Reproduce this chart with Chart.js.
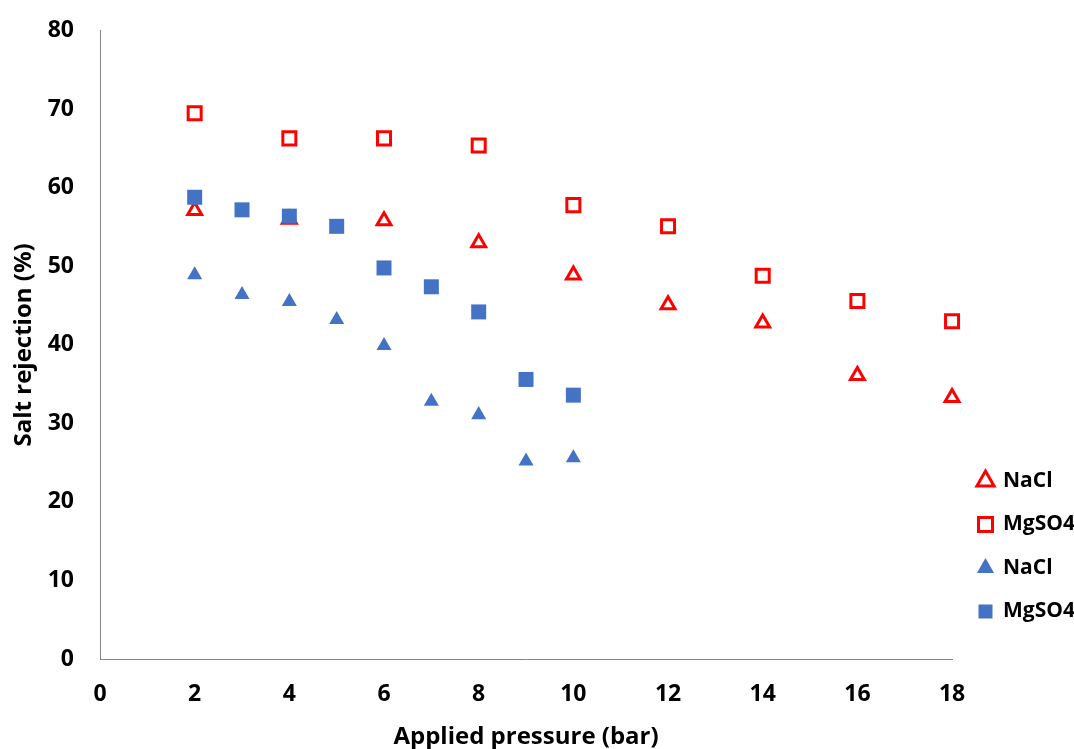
<!DOCTYPE html>
<html>
<head>
<meta charset="utf-8">
<script src="https://cdn.jsdelivr.net/npm/chart.js@4/dist/chart.umd.min.js"></script>
<style>
  html, body { margin: 0; padding: 0; background: #fff; }
  #wrap { width: 1074px; height: 749px; }
</style>
</head>
<body>
<div id="wrap"><canvas id="rejection_chart"></canvas></div>
<script>
// salt rejection vs applied pressure

var xTicks = [0, 2, 4, 6, 8, 10, 12, 14, 16, 18];
var yTicks = [0, 10, 20, 30, 40, 50, 60, 70, 80];

var pressureRed = [2, 4, 6, 8, 10, 12, 14, 16, 18];
var naclRed = [57.1, 56.0, 55.8, 53.0, 48.9, 45.1, 42.8, 36.1, 33.3];
var mgso4Red = [69.5, 66.3, 66.3, 65.4, 57.8, 55.1, 48.8, 45.6, 43.0];

var pressureBlue = [2, 3, 4, 5, 6, 7, 8, 9, 10];
var naclBlue = [48.9, 46.4, 45.5, 43.2, 39.9, 32.8, 31.1, 25.2, 25.6];
var mgso4Blue = [58.8, 57.2, 56.4, 55.1, 49.8, 47.4, 44.2, 35.6, 33.6];

var RED = '#FF0000';
var BLUE = '#4472C4';
var FONT = '"Open Sans", Lato, sans-serif';

function toPoints(xs, ys) {
  return xs.map(function (x, i) { return { x: x, y: ys[i] }; });
}

// put the legend block at the lower right like the original
const legendPlace = {
  id: 'legendPlace',
  afterLayout: function (chart) {
    var lg = chart.legend;
    if (!lg) return;
    var w = lg.right - lg.left, h = lg.bottom - lg.top;
    lg.left = 956; lg.right = lg.left + w;
    lg.top = 448; lg.bottom = lg.top + h;
  }
};

const config = {
  type: 'scatter',
  data: {
    datasets: [{
      label: 'NaCl',
      data: toPoints(pressureRed, naclRed),
      pointStyle: 'triangle',
      pointRadius: 8,
      pointHoverRadius: 8,
      pointBorderWidth: 3,
      pointBorderColor: RED,
      pointBackgroundColor: '#fff',
      borderColor: RED,
      backgroundColor: '#fff',
      clip: false,
      order: 3
    }, {
      label: 'MgSO4',
      data: toPoints(pressureRed, mgso4Red),
      pointStyle: 'rect',
      pointRadius: 9.2,
      pointHoverRadius: 9.2,
      pointBorderWidth: 3,
      pointBorderColor: RED,
      pointBackgroundColor: '#fff',
      borderColor: RED,
      backgroundColor: '#fff',
      clip: false,
      order: 2
    }, {
      label: 'NaCl',
      data: toPoints(pressureBlue, naclBlue),
      pointStyle: 'triangle',
      pointRadius: 8.7,
      pointHoverRadius: 8.7,
      pointBorderWidth: 0,
      pointBorderColor: BLUE,
      pointBackgroundColor: BLUE,
      borderColor: BLUE,
      backgroundColor: BLUE,
      clip: false,
      order: 1
    }, {
      label: 'MgSO4',
      data: toPoints(pressureBlue, mgso4Blue),
      pointStyle: 'rect',
      pointRadius: 10.6,
      pointHoverRadius: 10.6,
      pointBorderWidth: 0,
      pointBorderColor: BLUE,
      pointBackgroundColor: BLUE,
      borderColor: BLUE,
      backgroundColor: BLUE,
      clip: false,
      order: 0
    }]
  },
  options: {
    responsive: true,
    maintainAspectRatio: false,
    animation: false,
    layout: { padding: { top: 28, right: -7, bottom: 0, left: 0 } },
    plugins: {
      tooltip: { enabled: false },
      legend: {
        display: true,
        position: 'right',
        align: 'start',
        fullSize: false,
        labels: {
          usePointStyle: true,
          boxWidth: 14,
          boxHeight: 14,
          padding: 22.5,
          color: '#000',
          font: { family: FONT, size: 21, weight: 'bold' },
          sort: function (a, b) { return a.datasetIndex - b.datasetIndex; }
        }
      }
    },
    scales: {
      x: {
        type: 'linear',
        min: 0,
        max: 18,
        afterBuildTicks: function (scale) {
          scale.ticks = xTicks.map(function (v) { return { value: v }; });
        },
        afterFit: function (scale) { scale.height = 90; },
        grid: { display: false, drawOnChartArea: false, tickLength: 9, tickColor: '#868686' },
        border: { display: true, color: '#868686', width: 1 },
        ticks: {
          color: '#000',
          padding: 13,
          maxRotation: 0,
          font: { family: FONT, size: 23, weight: 'bold' }
        },
        title: {
          display: true,
          text: 'Applied pressure (bar)',
          color: '#000',
          padding: { top: 0, bottom: 0 },
          font: { family: FONT, size: 24, weight: 'bold', lineHeight: 1 }
        }
      },
      y: {
        type: 'linear',
        min: 0,
        max: 80,
        afterBuildTicks: function (scale) {
          scale.ticks = yTicks.map(function (v) { return { value: v }; });
        },
        afterFit: function (scale) { scale.width = 100; },
        grid: { display: false, drawOnChartArea: false, tickLength: 9, tickColor: '#868686' },
        border: { display: true, color: '#868686', width: 1 },
        ticks: {
          color: '#000',
          padding: 17,
          font: { family: FONT, size: 23, weight: 'bold' }
        },
        title: {
          display: true,
          text: 'Salt rejection (%)',
          color: '#000',
          padding: { top: 12, bottom: 0 },
          font: { family: FONT, size: 24, weight: 'bold', lineHeight: 1 }
        }
      }
    }
  },
  plugins: [legendPlace]
};

window.onload = function () {
  var ctx = document.getElementById('rejection_chart').getContext('2d');
  window.rejectionChart = new Chart(ctx, config);
};
</script>
</body>
</html>
